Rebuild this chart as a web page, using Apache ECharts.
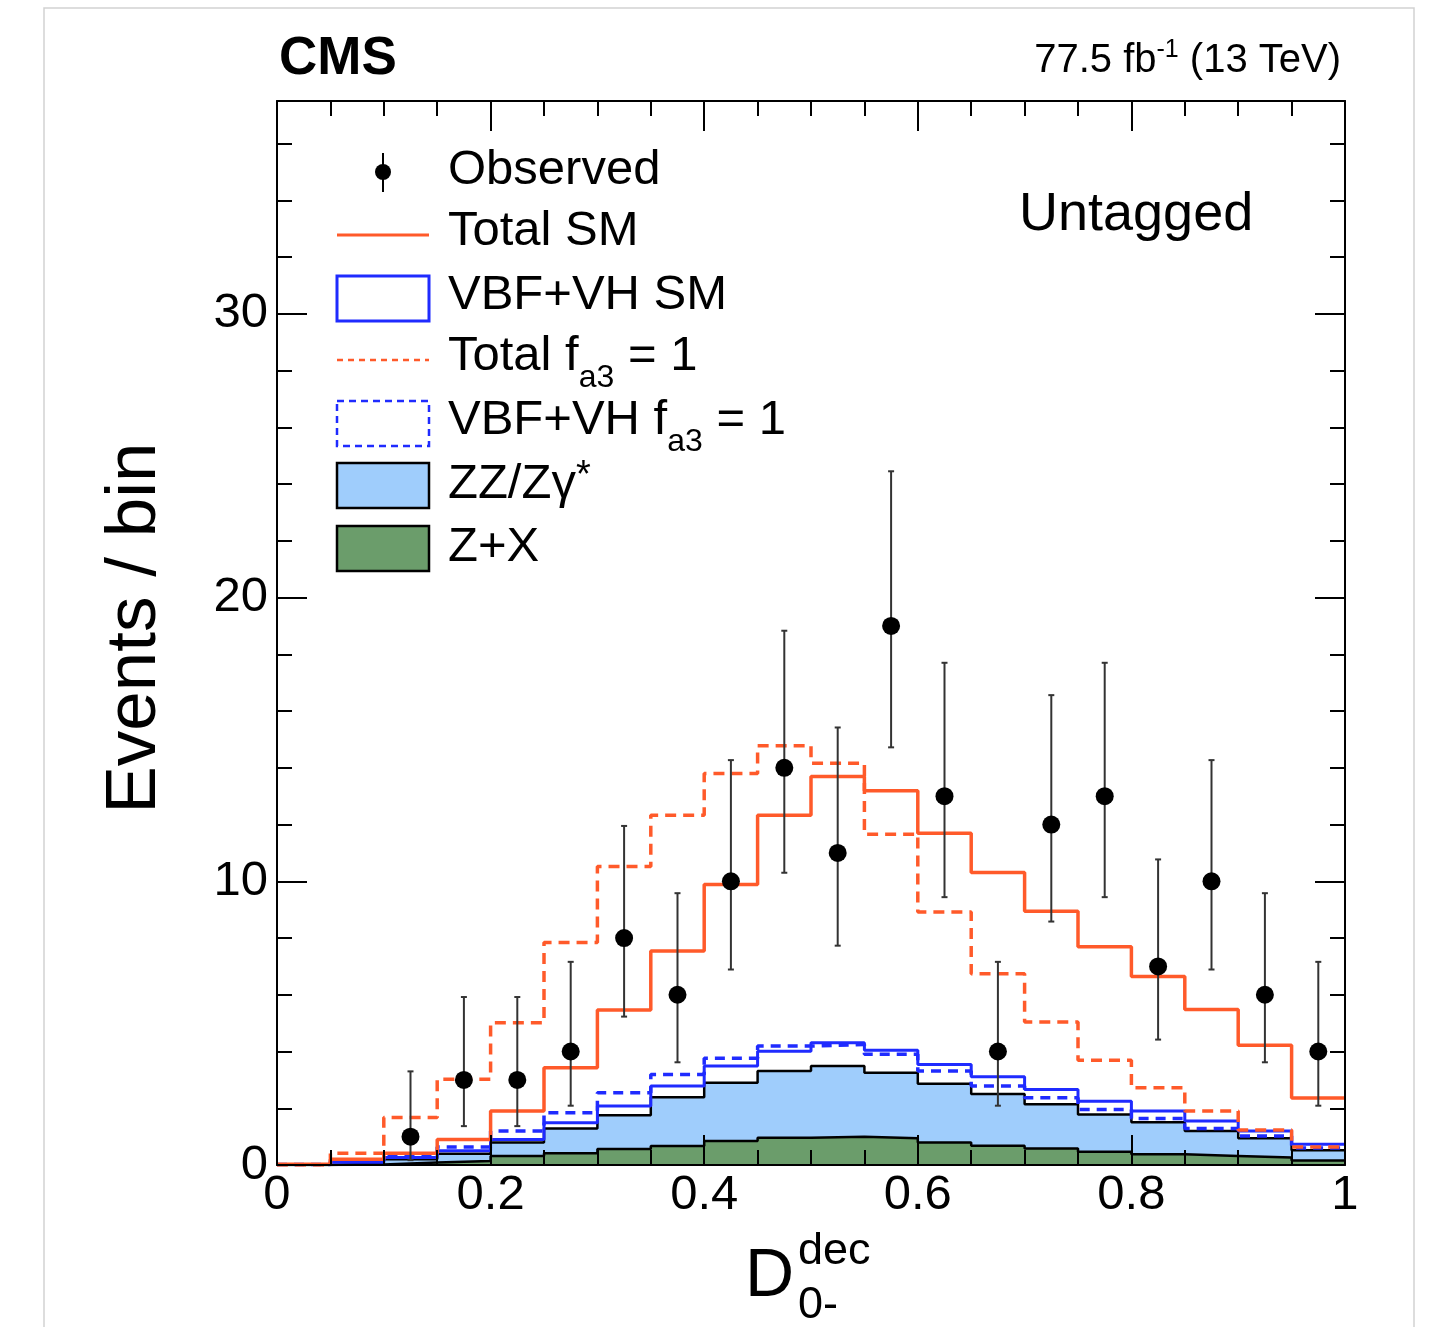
<!DOCTYPE html>
<html><head><meta charset="utf-8">
<script src="https://cdn.jsdelivr.net/npm/echarts@6/dist/echarts.min.js"></script>
<style>html,body{margin:0;padding:0;background:#fff}#c{width:1430px;height:1327px}</style>
</head><body><div id="c"></div>
<script>
// ---- data ----
const binEdges = [0,0.05,0.1,0.15,0.2,0.25,0.3,0.35,0.4,0.45,0.5,0.55,0.6,0.65,0.7,0.75,0.8,0.85,0.9,0.95,1];
const binCenters = [0.025,0.075,0.125,0.175,0.225,0.275,0.325,0.375,0.425,0.475,0.525,0.575,0.625,0.675,0.725,0.775,0.825,0.875,0.925,0.975];
const obsCounts = [null,null,1,3,3,4,8,6,10,14,11,19,13,4,12,13,7,10,6,4];
const obsLow  = [null,null,0.17,1.37,1.37,2.09,5.23,3.62,6.89,10.30,7.73,14.72,9.44,2.09,8.58,9.44,4.42,6.89,3.62,2.09];
const obsHigh = [null,null,3.30,5.92,5.92,7.16,11.95,9.58,14.27,18.83,15.42,24.45,17.70,7.16,16.56,17.70,10.77,14.27,9.58,7.16];
// stacked heights (as drawn)
const zxTop     = [0.00,0.02,0.09,0.14,0.32,0.41,0.56,0.67,0.85,0.96,1.00,0.94,0.79,0.68,0.58,0.47,0.38,0.32,0.26,0.16];
const zzTop     = [0.00,0.05,0.20,0.40,0.79,1.29,1.75,2.39,2.90,3.31,3.49,3.25,2.86,2.50,2.14,1.78,1.51,1.20,0.94,0.52];
const vbfSmTop  = [0.02,0.10,0.26,0.50,0.90,1.49,2.08,2.78,3.49,4.01,4.31,4.04,3.54,3.11,2.66,2.25,1.90,1.55,1.20,0.73];
const vbfFa3Top = [0.02,0.15,0.32,0.63,1.20,1.84,2.55,3.19,3.76,4.19,4.25,3.90,3.31,2.78,2.37,1.96,1.64,1.29,1.02,0.60];
const totalSm   = [0.03,0.20,0.41,0.90,1.90,3.43,5.46,7.54,9.89,12.33,13.69,13.19,11.69,10.31,8.94,7.69,6.64,5.48,4.22,2.36];
const totalFa3  = [0.00,0.41,1.67,3.02,5.01,7.84,10.52,12.33,13.80,14.78,14.16,11.66,8.92,6.74,5.04,3.69,2.72,1.90,1.23,0.63];
const xTickValues = [0,0.2,0.4,0.6,0.8,1];
const xTickLabels = ['0','0.2','0.4','0.6','0.8','1'];
const yTickValues = [0,10,20,30];
const yTickLabels = ['0','10','20','30'];

// ---- styling ----
const FONT = '"Liberation Sans", Arial, Helvetica, sans-serif';
const RED = '#ff5a2a';
const BLUE = '#1f2bff';
const LBLUE = '#9fcdfc';
const GREEN = '#6b9d6b';

function stepData(vals){
  const d = [];
  for (let i = 0; i < vals.length; i++) d.push([binEdges[i], vals[i]]);
  d.push([binEdges[vals.length], vals[vals.length-1]]);
  return d;
}
function lab(values, labels){
  return function(v){
    for (let i = 0; i < values.length; i++) if (Math.abs(values[i]-v) < 1e-6) return labels[i];
    return '';
  };
}
const obsData = [];
for (let i = 0; i < binCenters.length; i++) {
  if (obsCounts[i] !== null) obsData.push([binCenters[i], obsCounts[i], obsLow[i], obsHigh[i]]);
}

const tickStyle = {color:'#000', width:2};
function xAx(pos, showLabel){
  return {type:'value', min:0, max:1, interval:0.2, position:pos, z:10,
    axisLine:{show:true, onZero:false, lineStyle:tickStyle},
    axisTick:{show:true, inside:true, length:30, lineStyle:tickStyle},
    minorTick:{show:true, splitNumber:4, length:15, lineStyle:tickStyle},
    splitLine:{show:false}, minorSplitLine:{show:false},
    axisLabel:{show:showLabel, margin:6, fontSize:49, color:'#000', fontFamily:FONT, formatter:lab(xTickValues,xTickLabels)}
  };
}
function yAx(pos, interval, len, showLine, showLabel){
  return {type:'value', min:0, max:37.5, interval:interval, position:pos, z:10,
    axisLine:{show:showLine, onZero:false, lineStyle:tickStyle},
    axisTick:{show:true, inside:true, length:len, lineStyle:tickStyle},
    splitLine:{show:false},
    axisLabel:{show:showLabel, margin:9, fontSize:49, color:'#000', fontFamily:FONT, formatter:lab(yTickValues,yTickLabels)}
  };
}
function stepLine(name, vals, color, width, dash, fill, z){
  const s = {name:name, type:'line', step:'end', data:stepData(vals), symbol:'none', showSymbol:false,
    xAxisIndex:0, yAxisIndex:0, z:z, silent:true,
    lineStyle:{color:color, width:width, type: dash ? dash : 'solid'}};
  if (fill) s.areaStyle = {color:fill, opacity:1};
  return s;
}

const lx = 337, lw = 92, lt = 448;
const txt = (x, y, text, size, extra) => Object.assign({type:'text', x:x, y:y, z:50, silent:true,
  style:Object.assign({text:text, fontSize:size, fontFamily:FONT, fill:'#000', align:'left', verticalAlign:'middle'}, extra||{})});

const graphic = [
  {type:'rect', silent:true, z:0, shape:{x:44, y:8, width:1370, height:1345}, style:{fill:'none', stroke:'#d2d2d2', lineWidth:1.5}},
  txt(279, 59, 'CMS', 53, {fontWeight:'bold'}),
  txt(1341, 61, '77.5 fb{p|-1} (13 TeV)', 40, {align:'right', rich:{p:{fontSize:25, padding:[0,0,22,0], fontFamily:FONT}}}),
  txt(1019, 215, 'Untagged', 54),
  // legend
  {type:'line', silent:true, z:50, shape:{x1:383, y1:153, x2:383, y2:192}, style:{stroke:'#000', lineWidth:2}},
  {type:'circle', silent:true, z:51, shape:{cx:383, cy:172, r:8}, style:{fill:'#000'}},
  txt(lt, 170, 'Observed', 49),
  {type:'line', silent:true, z:50, shape:{x1:lx, y1:235, x2:lx+lw, y2:235}, style:{stroke:RED, lineWidth:3}},
  txt(lt, 231, 'Total SM', 49),
  {type:'rect', silent:true, z:50, shape:{x:lx, y:276, width:lw, height:45}, style:{fill:'#fff', stroke:BLUE, lineWidth:3}},
  txt(lt, 295, 'VBF+VH SM', 49),
  {type:'line', silent:true, z:50, shape:{x1:lx, y1:360, x2:lx+lw, y2:360}, style:{stroke:RED, lineWidth:2.5, lineDash:[6,5]}},
  txt(lt, 356, 'Total f{s|a3} = 1', 49, {rich:{s:{fontSize:32, padding:[44,0,0,0], fontFamily:FONT}}}),
  {type:'rect', silent:true, z:50, shape:{x:lx, y:401, width:lw, height:45}, style:{fill:'#fff', stroke:BLUE, lineWidth:2.5, lineDash:[7,5]}},
  txt(lt, 420, 'VBF+VH f{s|a3} = 1', 49, {rich:{s:{fontSize:32, padding:[44,0,0,0], fontFamily:FONT}}}),
  {type:'rect', silent:true, z:50, shape:{x:lx, y:463, width:lw, height:45}, style:{fill:LBLUE, stroke:'#000', lineWidth:2.5}},
  txt(lt, 484, 'ZZ/Z\u03b3{p|*}', 49, {rich:{p:{fontSize:38, padding:[0,0,14,0], fontFamily:FONT}}}),
  {type:'rect', silent:true, z:50, shape:{x:lx, y:526, width:lw, height:45}, style:{fill:GREEN, stroke:'#000', lineWidth:2.5}},
  txt(lt, 547, 'Z+X', 49),
  // axis titles
  Object.assign(txt(135, 628, 'Events / bin', 71, {align:'center'}), {rotation:Math.PI/2}),
  txt(745, 1277, 'D', 68),
  txt(798, 1252, 'dec', 45),
  txt(798, 1306, '0-', 45)
];

const option = {
  animation:false,
  backgroundColor:'#fff',
  grid:{left:277, right:85, top:101, bottom:162, containLabel:false},
  xAxis:[xAx('bottom', true), xAx('top', false)],
  yAxis:[yAx('left',10,30,true,true), yAx('left',2,15,false,false), yAx('right',10,30,true,false), yAx('right',2,15,false,false)],
  series:[
    stepLine('ZZ/Zγ*', zzTop, '#000', 2.5, null, LBLUE, 2),
    stepLine('Z+X', zxTop, '#000', 2.5, null, GREEN, 3),
    stepLine('VBF+VH SM', vbfSmTop, BLUE, 3, null, null, 4),
    stepLine('VBF+VH fa3=1', vbfFa3Top, BLUE, 3.5, [10,7], null, 5),
    stepLine('Total fa3=1', totalFa3, RED, 3.5, [11,7], null, 6),
    stepLine('Total SM', totalSm, RED, 3.5, null, null, 7),
    {name:'Observed', type:'custom', xAxisIndex:0, yAxisIndex:0, z:20, silent:true, data:obsData,
      encode:{x:0, y:1},
      renderItem:function(params, api){
        const x = api.value(0), y = api.value(1), lo = api.value(2), hi = api.value(3);
        const p = api.coord([x,y]), pl = api.coord([x,lo]), ph = api.coord([x,hi]);
        const st = {stroke:'#333', lineWidth:2};
        return {type:'group', children:[
          {type:'line', shape:{x1:p[0], y1:pl[1], x2:p[0], y2:ph[1]}, style:st},
          {type:'line', shape:{x1:p[0]-3, y1:pl[1], x2:p[0]+3, y2:pl[1]}, style:st},
          {type:'line', shape:{x1:p[0]-3, y1:ph[1], x2:p[0]+3, y2:ph[1]}, style:st},
          {type:'circle', shape:{cx:p[0], cy:p[1], r:9}, style:{fill:'#000'}}
        ]};
      }
    }
  ],
  graphic:graphic
};
const chart = echarts.init(document.getElementById('c'), null, {renderer:'canvas'});
chart.setOption(option);
</script></body></html>
